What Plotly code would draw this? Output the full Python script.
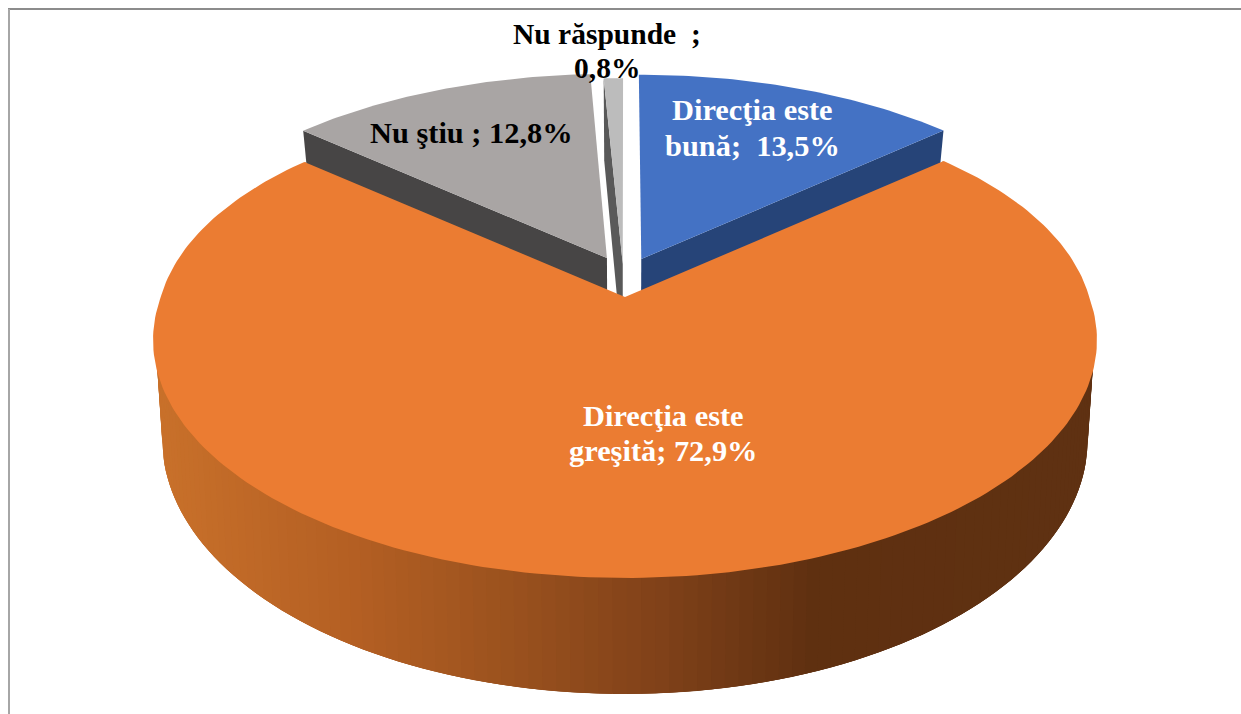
import numpy as np
import plotly.graph_objects as go

# ---- data ----
categories = ["Direcţia este bună", "Direcţia este greşită", "Nu ştiu", "Nu răspunde"]
values = [13.5, 72.9, 12.8, 0.8]
label_lines = [["Direcţia este", "bună;  13,5%"], ["Direcţia este", "greşită; 72,9%"],
               ["Nu ştiu ; 12,8%"], ["Nu răspunde  ;", "0,8%"]]
top_colors = ["#4472C4", "#EB7C32", "#A9A5A4", "#BCBCBC"]
wall_colors = ["#264478", "#5F3112", "#474545", "#595959"]
label_colors = ["white", "white", "black", "black"]

# ---- pie projection settings ----
W, H = 1241, 714
CX = 625.0
P = 0.1807
PX_BACK = [0.1807, 0.14, 0.1807, 0.1807]
TOP = dict(y0=297.0, A=[466.0, 464.2, 466.0, 466.0], B=230.2)
BOT = dict(y0=394.0, A=[454.0, 455.0, 454.0, 454.0], B=245.8)
EXPLODE = [(0.036, -0.17), (0.0, 0.0), (-0.04, -0.1745), (-0.005, -0.148)]
LABEL_X = [752, 663, 471, 607]
LABEL_Y = [[110, 146], [416, 451], [133], [34, 68]]
LABEL_SIZE = [30.4, 30.4, 30.4, 29.5]
SIDE_STOPS_X = [165, 354, 507, 660, 813, 1100]
SIDE_STOPS_RGB = [(200, 112, 42), (180, 95, 35), (155, 82, 30), (128, 65, 25), (95, 48, 16), (95, 49, 18)]


def project(angle, r, i, s):
    u = r * np.sin(angle) + EXPLODE[i][0]
    v = -r * np.cos(angle) + EXPLODE[i][1]
    px = np.where(v < 0, PX_BACK[i], P)
    return CX + s["A"][i] * u / (1 - px * v), s["y0"] + s["B"] * v / (1 - P * v)


def poly(fig, x, y, color):
    fig.add_trace(go.Scatter(x=list(x), y=list(y), mode="lines", fill="toself", fillcolor=color,
                             line=dict(color=color, width=0), hoverinfo="skip", showlegend=False))


edges = np.concatenate([[0], np.cumsum(values)]) / 100 * 2 * np.pi
fig = go.Figure()

# exploded slices: cut faces then top surfaces
for i in [3, 2, 0]:
    a0, a1 = edges[i], edges[i + 1]
    wall_a = a1 if i == 0 else a0
    xt0, yt0 = project(0.0, 0.0, i, TOP)
    xt1, yt1 = project(wall_a, 1.0, i, TOP)
    xb1, yb1 = project(wall_a, 1.0, i, BOT)
    xb0, yb0 = project(0.0, 0.0, i, BOT)
    poly(fig, [xt0, xt1, xb1, xb0, xt0], [yt0, yt1, yb1, yb0, yt0], wall_colors[i])
    arc = np.linspace(a0, a1, 60)
    xa, ya = project(arc, 1.0, i, TOP)
    poly(fig, np.r_[xt0, xa, xt0], np.r_[yt0, ya, yt0], top_colors[i])

# large slice: shaded outer wall, overlapping narrow strips so no seams show
a0, a1 = edges[1], edges[2]
n = 180
steps = np.linspace(a0, a1, n + 1)
for k in range(n):
    sa = steps[k:min(k + 4, n + 1)]
    xt, yt = project(sa, 0.995, 1, TOP)
    xb, yb = project(sa[::-1], 1.0, 1, BOT)
    mx = float(np.mean(np.r_[xt[:2], xb[-2:]]))
    rgb = [np.interp(mx, SIDE_STOPS_X, [c[j] for c in SIDE_STOPS_RGB]) for j in range(3)]
    poly(fig, np.r_[xt, xb, xt[0]], np.r_[yt, yb, yt[0]],
         "rgb(%d,%d,%d)" % tuple(int(round(c)) for c in rgb))

arc = np.linspace(a0, a1, 240)
xa, ya = project(arc, 1.0, 1, TOP)
xc, yc = project(0.0, 0.0, 1, TOP)
poly(fig, np.r_[xc, xa, xc], np.r_[yc, ya, yc], top_colors[1])

for lines, x, ys, col, size in zip(label_lines, LABEL_X, LABEL_Y, label_colors, LABEL_SIZE):
    for text, y in zip(lines, ys):
        fig.add_annotation(x=x, y=y, xref="x", yref="y", text="<b>%s</b>" % text, showarrow=False,
                           font=dict(family="Liberation Serif", size=size, color=col), align="center")

# chart frame
fig.add_shape(type="line", x0=8, x1=W, y0=9, y1=9, line=dict(color="#8C8C8C", width=2))
fig.add_shape(type="line", x0=9, x1=9, y0=9, y1=H, line=dict(color="#A6A6A6", width=2))

fig.update_layout(width=W, height=H, margin=dict(l=0, r=0, t=0, b=0), paper_bgcolor="white",
                  plot_bgcolor="white", showlegend=False,
                  xaxis=dict(range=[0, W], visible=False, fixedrange=True),
                  yaxis=dict(range=[H, 0], visible=False, fixedrange=True))
fig.write_html("out.html", config=dict(displayModeBar=False),
               post_script="document.body.style.margin='0';document.body.style.overflow='hidden';")
